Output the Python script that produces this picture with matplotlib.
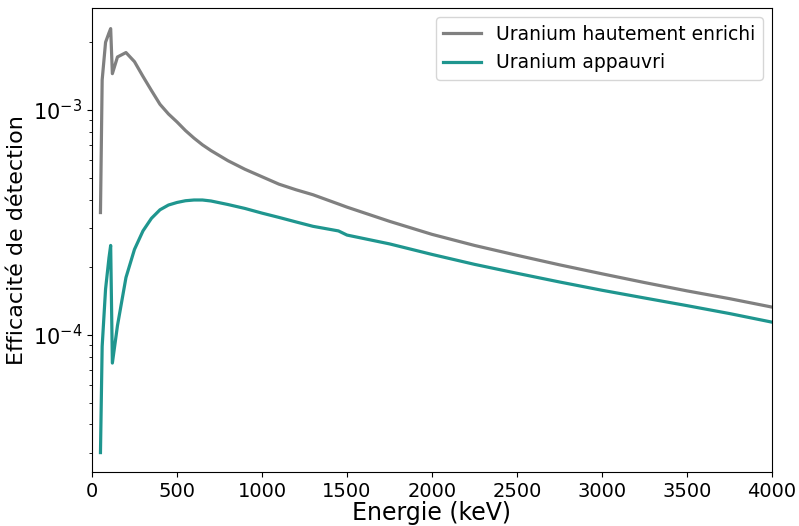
import numpy as np
import matplotlib
matplotlib.use('Agg')
import matplotlib.pyplot as plt

# Energies (keV) and detection efficiencies
energie = [50, 60, 80, 100, 110, 120, 150, 200, 250, 300, 350, 400, 450, 500,
           550, 600, 650, 700, 800, 900, 1000, 1100, 1200, 1300, 1450, 1500,
           1750, 2000, 2250, 2500, 2750, 3000, 3250, 3500, 3750, 4000]

eff_heu = [3.5e-4, 1.36e-3, 2.0e-3, 2.2e-3, 2.3e-3, 1.45e-3, 1.72e-3, 1.80e-3,
           1.64e-3, 1.41e-3, 1.22e-3, 1.06e-3, 9.6e-4, 8.85e-4, 8.1e-4, 7.5e-4,
           7.0e-4, 6.6e-4, 5.95e-4, 5.45e-4, 5.05e-4, 4.68e-4, 4.42e-4, 4.2e-4,
           3.82e-4, 3.7e-4, 3.2e-4, 2.8e-4, 2.5e-4, 2.26e-4, 2.05e-4, 1.87e-4,
           1.71e-4, 1.57e-4, 1.45e-4, 1.33e-4]

eff_dep = [3.0e-5, 8.9e-5, 1.6e-4, 2.2e-4, 2.5e-4, 7.5e-5, 1.1e-4, 1.8e-4,
           2.4e-4, 2.9e-4, 3.3e-4, 3.6e-4, 3.78e-4, 3.88e-4, 3.95e-4, 3.98e-4,
           3.98e-4, 3.94e-4, 3.8e-4, 3.65e-4, 3.48e-4, 3.33e-4, 3.18e-4,
           3.04e-4, 2.9e-4, 2.78e-4, 2.54e-4, 2.28e-4, 2.06e-4, 1.88e-4,
           1.72e-4, 1.58e-4, 1.46e-4, 1.35e-4, 1.245e-4, 1.14e-4]

fig = plt.figure(figsize=(7.99, 5.26), dpi=100)
ax = fig.add_axes([0.1151, 0.1027, 0.8511, 0.8821])

ax.plot(energie, eff_heu, color='#808080', lw=2.3, label='Uranium hautement enrichi')
ax.plot(energie, eff_dep, color='#1f968f', lw=2.3, label='Uranium appauvri')

ax.set_yscale('log')
ax.set_xlim(0, 4000)
ax.set_ylim(2.46e-5, 2.84e-3)
ax.set_xticks(np.arange(0, 4001, 500))
ax.tick_params(axis='x', which='major', labelsize=14)
ax.tick_params(axis='y', which='major', labelsize=15)
ax.set_xlabel('Energie (keV)', fontsize=17, labelpad=0)
ax.set_ylabel('Efficacité de détection', fontsize=16)
ax.legend(loc='upper right', fontsize=13.5)

fig.savefig('out.png', dpi=100)
